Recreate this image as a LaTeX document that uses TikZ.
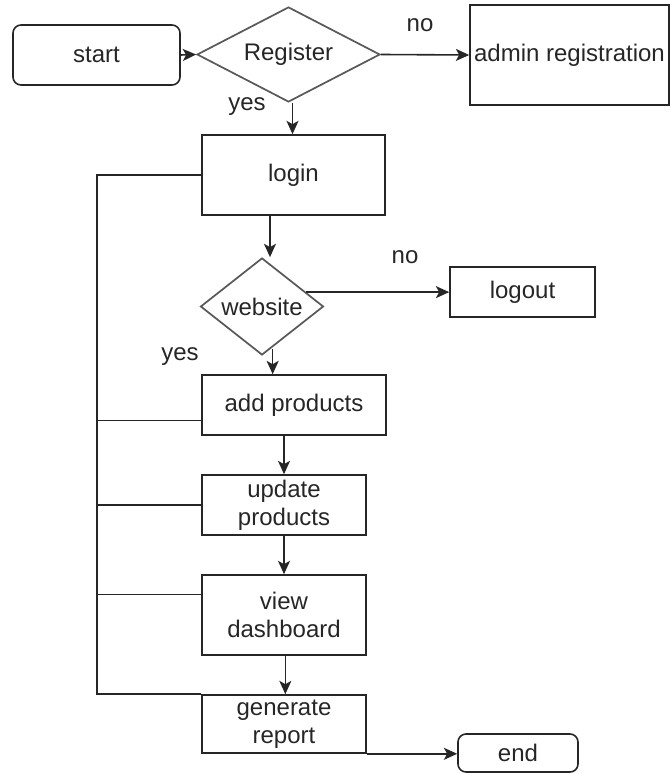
\documentclass[tikz,border=0pt]{standalone}
\usepackage{fontspec}
\setmainfont{Liberation Sans}
\usetikzlibrary{arrows.meta,shapes.geometric,positioning,calc}

\tikzset{
  terminal/.style={draw=black!85, line width=1.2pt, rounded corners=6pt, inner sep=0pt, align=center},
  process/.style={draw=black!85, line width=1.2pt, rectangle, inner sep=0pt, align=center},
  decision/.style={draw=black!65, line width=1.3pt, diamond, shape aspect=2, inner sep=0pt},
  flow/.style={-{Stealth[length=10pt,width=9pt,inset=2.5pt]}, line width=1.2pt, draw=black!85},
  link/.style={line width=1.2pt, draw=black!85},
  branch/.style={text=black!85}
}

\begin{document}
\begin{tikzpicture}[x=0.75pt,y=-0.75pt, font=\fontsize{18}{21}\selectfont, text=black!85]
                % page size as the reference
                \useasboundingbox (0,0) rectangle (670,773);

                % top row
                \node[terminal, minimum width=125.25pt, minimum height=45pt] (start) at (96.5,55) {start};
                \node[decision, minimum width=137.25pt, minimum height=71.25pt] (reg) at (288.5,54.5) {Register};
                \node[process, minimum width=149.25pt, minimum height=75pt] (admin) at (569.5,55) {admin registration};

                % main column
                \node[process, minimum width=137.25pt, minimum height=60pt] (login) at (293.5,175) {login};
                \node[decision, minimum width=92.25pt, minimum height=72.75pt] (web) at (262,306.5) {website};
                \node[process, minimum width=108.75pt, minimum height=37.5pt] (logout) at (522.5,292) {logout};
                \node[process, minimum width=138pt, minimum height=45pt] (addp) at (294,405) {add products};
                \node[process, minimum width=123pt, minimum height=45pt] (updp) at (284,505) {update\\products};
                \node[process, minimum width=123pt, minimum height=60pt] (view) at (284,615) {view\\dashboard};
                \node[process, minimum width=123pt, minimum height=43.5pt] (gen) at (284,724) {generate\\report};
                \node[terminal, minimum width=90pt, minimum height=28.5pt] (stop) at (518,753) {end};

                % branch labels
                \node[branch] (regno) at (420,25) {no};
                \node[branch] (regyes) at (247,107) {yes};
                \node[branch] (webno) at (405,257) {no};
                \node[branch] (webyes) at (180,357) {yes};

                % arrows
                \draw[flow] (start.east) -- (reg.west);
                \draw[flow] (reg.east) -- (admin.west);
                \draw[flow] ([xshift=3pt]reg.south) -- ([xshift=3pt]reg.south |- login.north);
                \draw[flow] ([xshift=6pt]web.north |- login.south) -- ([xshift=6pt]web.north);
                \draw[flow] (web.18) -- (web.18 -| logout.west);
                \draw[flow] ([xshift=8pt,yshift=5pt]web.south) -- ([xshift=8pt]web.south |- addp.north);
                \draw[flow] (updp.north |- addp.south) -- (updp.north);
                \draw[flow] (updp.south) -- (view.north);
                \draw[flow] ([xshift=1pt]view.south) -- ([xshift=1pt]gen.north);
                \draw[flow] (gen.south east) -- (gen.south east -| stop.west);

                % loop back on the left
                \coordinate (lp) at (97,175);
                \draw[link] (login.west) -- (lp) |- (gen.north west);
                \draw[link] (lp |- {$(addp.west)!0.5!(addp.south west)$}) -- ($(addp.west)!0.5!(addp.south west)$);
                \draw[link] (lp |- updp.west) -- (updp.west);
                \draw[link] (lp |- {$(view.west)!0.5!(view.north west)$}) -- ($(view.west)!0.5!(view.north west)$);
            \end{tikzpicture}
\end{document}
